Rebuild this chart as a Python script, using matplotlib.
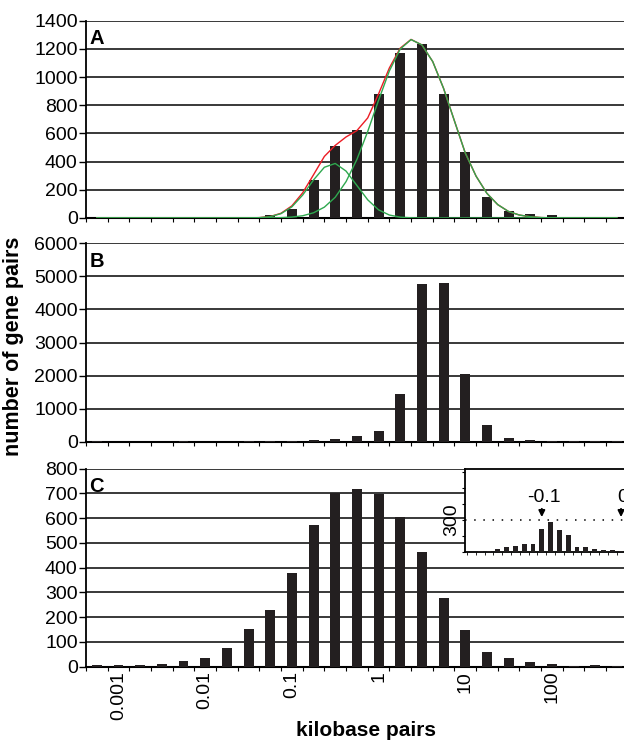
import numpy as np
import matplotlib
matplotlib.use("Agg")
import matplotlib.pyplot as plt

plt.rcParams['font.family'] = ['Liberation Sans', 'DejaVu Sans']

# bin index 0..24, each bin a quarter decade wide
countsA = [2, 1, 1, 1, 1, 2, 3, 4, 20, 61, 267, 514, 625, 880, 1168, 1236, 880, 466, 152, 50, 26, 19, 5, 3, 1]
countsB = [25, 5, 5, 5, 20, 5, 5, 10, 15, 25, 62, 95, 185, 335, 1445, 4770, 4810, 2045, 490, 123, 62, 33, 22, 20, 10]
countsC = [7, 8, 8, 11, 23, 35, 77, 151, 230, 380, 572, 700, 719, 696, 603, 465, 277, 147, 61, 34, 17, 9, 3, 5, 1]

# fitted curves in panel A (x in bin units)
curveX = [0.5, 6.5, 7, 7.5, 8, 8.5, 9, 9.5, 10, 10.5, 11, 11.5, 12, 12.5, 13, 13.5, 14, 14.5,
          15, 15.5, 16, 16.5, 17, 17.5, 18, 18.5, 19, 19.5, 20, 20.5, 21, 21.5, 22, 22.5, 24.5]
fitSmall = [0, 0, 0.1, 0.5, 2.4, 9.6, 31, 79, 163, 270, 360, 387, 333, 231, 129, 58, 21, 6,
            1.4, 0.3, 0, 0, 0, 0, 0, 0, 0, 0, 0, 0, 0, 0, 0, 0, 0]
fitLarge = [0, 0, 0, 0, 0.3, 0.9, 2.5, 6.7, 16, 37, 77, 147, 258, 415, 614, 835, 1044, 1199,
            1266, 1228, 1110, 920, 690, 462, 297, 175, 95, 46, 21, 9, 3, 1, 0.4, 0, 0]
fitSum = [0, 0, 0.1, 0.6, 2.7, 10.5, 33.5, 86, 179, 307, 437, 515, 575, 620, 710, 880, 1065, 1205,
          1267, 1228, 1110, 920, 690, 462, 297, 175, 95, 46, 21, 9, 3, 1, 0.4, 0, 0]

tickPos = [1.5, 5.5, 9.5, 13.5, 17.5, 21.5]
tickLab = ['0.001', '0.01', '0.1', '1', '10', '100']

# inset of panel C
insetCounts = [0, 2, 8, 22, 41, 57, 73, 73, 215, 284, 205, 158, 44, 41, 25, 16, 13, 9, 4, 2, 1]
insetMarks = [(8.2, '-0.1', 8.0), (17.2, '0', 17.0)]

barColor = '#231f20'
gridColor = '#2a2a2a'
fs = 14

fig = plt.figure(figsize=(6.24, 7.42), dpi=100)

def panel(bottom_px, top_px, counts, ymax, ystep, letter, labels=False):
    ax = fig.add_axes([86/624, (742-bottom_px)/742, 545/624, (bottom_px-top_px)/742])
    ax.bar(np.arange(len(counts)) + 0.5, counts, width=0.46, color=barColor, zorder=3)
    ax.set_xlim(0, 545/21.67)
    ax.set_ylim(0, ymax)
    ax.set_yticks(np.arange(0, ymax + 1, ystep))
    ax.yaxis.grid(True, color=gridColor, lw=1.3)
    ax.set_axisbelow(True)
    ax.spines['right'].set_visible(False)
    ax.spines['top'].set_visible(False)
    ax.spines['left'].set_linewidth(1.3)
    ax.spines['bottom'].set_linewidth(1.5)
    ax.tick_params(axis='y', direction='out', length=5, width=1, labelsize=fs, pad=1)
    ax.set_xticks(np.arange(0, 26), minor=True)
    ax.tick_params(axis='x', which='minor', direction='out', length=3, width=0.8)
    if labels:
        ax.set_xticks(tickPos)
        ax.set_xticklabels(tickLab, rotation=90, fontsize=fs)
        ax.tick_params(axis='x', which='major', length=0, pad=3)
    else:
        ax.set_xticks([])
    ax.text(0.006, 0.958, letter, transform=ax.transAxes, fontsize=14.5,
            fontweight='bold', ha='left', va='top', zorder=6)
    return ax

axA = panel(218, 20.7, countsA, 1400, 200, 'A')
axA.plot(curveX, fitSum, color='#ec1c24', lw=1.0, zorder=4)
axA.plot(curveX, fitSmall, color='#2fa84f', lw=1.0, zorder=5)
axA.plot(curveX, fitLarge, color='#2fa84f', lw=1.0, zorder=5)

axB = panel(441.7, 243.3, countsB, 6000, 1000, 'B')
axC = panel(666.7, 468.7, countsC, 800, 100, 'C', labels=True)

# inset
axI = fig.add_axes([465/624, (742-551.7)/742, 200/624, 82.7/742], zorder=10)
axI.set_facecolor('white')
axI.bar(np.arange(len(insetCounts)), insetCounts, width=0.53, color=barColor, zorder=3)
axI.set_xlim(-0.73, -0.73 + 200/8.8)
axI.set_ylim(0, 780)
axI.axhline(300, color='k', lw=1.1, ls=(0, (1, 5)), zorder=2)
axI.set_yticks([0, 150, 300, 450, 600, 750])
axI.set_yticklabels(['', '', '300', '', '', ''], rotation=90, va='center', fontsize=fs)
axI.tick_params(axis='y', direction='out', length=2.5, pad=1)
axI.set_xticks([])
axI.set_xticks(np.arange(-0.5, 22, 1), minor=True)
axI.tick_params(axis='x', which='minor', direction='out', length=2)
axI.spines['right'].set_visible(False)
for s in ['left', 'top', 'bottom']:
    axI.spines[s].set_linewidth(1.3)
for xt, lab, xa in insetMarks:
    axI.text(xt, 508, lab, fontsize=fs, ha='center', va='center')
    axI.annotate('', xy=(xa, 300), xytext=(xa, 430),
                 arrowprops=dict(arrowstyle='-|>', color='k', lw=1.4, mutation_scale=9))

fig.text(14/624, 0.5337, 'number of gene pairs', rotation=90, fontsize=15.5,
         fontweight='bold', ha='center', va='center')
fig.text(366/624, (742-731)/742, 'kilobase pairs', fontsize=15,
         fontweight='bold', ha='center', va='center')

fig.savefig('out.png', dpi=100)
